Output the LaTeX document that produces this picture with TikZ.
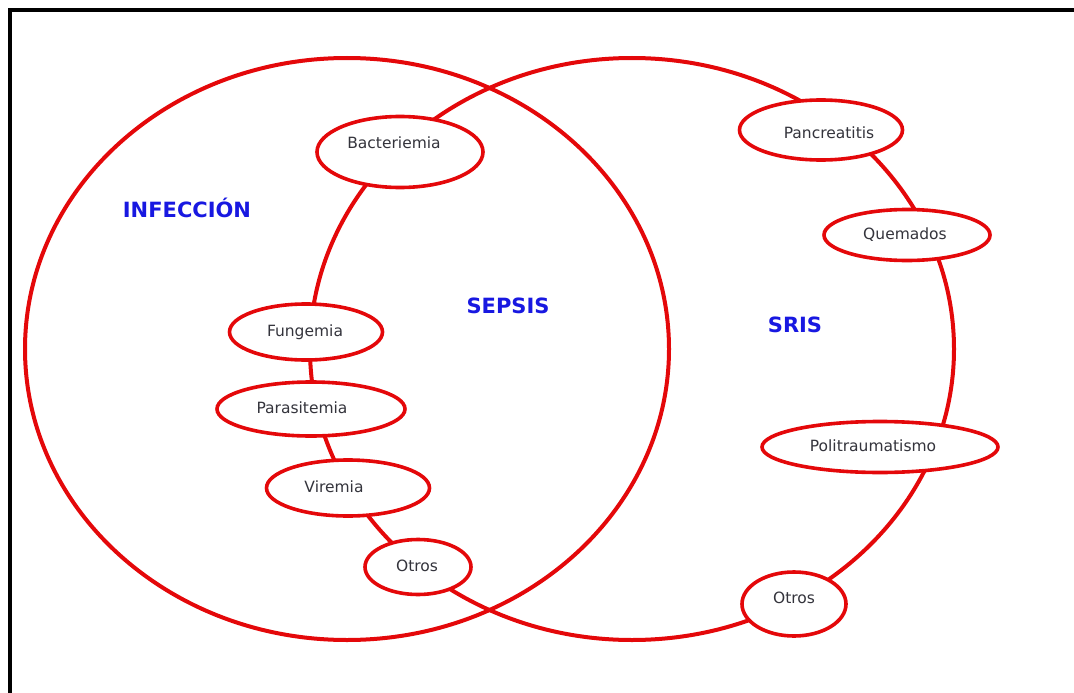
\documentclass[tikz,border=0pt]{standalone}
\usepackage{fontspec}
\setmainfont{DejaVu Sans}
\usetikzlibrary{shapes.geometric}
\definecolor{ringred}{RGB}{228,8,10}
\definecolor{setblue}{RGB}{24,24,225}
\definecolor{inkgray}{RGB}{52,52,60}
\tikzset{
  ring/.style={draw=ringred, line width=4pt},
  bubble/.style={ellipse, draw=ringred, line width=3.6pt, fill=white, inner sep=0pt},
  bubbletext/.style={font=\fontsize{15.5}{16}\selectfont, text=inkgray, inner sep=0pt,
                     text height=11pt, text depth=0pt},
  setname/.style={font=\fontsize{21}{22}\selectfont\bfseries, text=setblue, inner sep=0pt}
}
\begin{document}
\begin{tikzpicture}[x=1pt,y=-1pt]
  \useasboundingbox (0,0) rectangle (1074,693);
  % frame
  \draw[line width=4pt, line cap=rect] (10,693) -- (10,10) -- (1074,10);

  % the two overlapping sets
  \draw[ring] (347,349) ellipse [x radius=322pt, y radius=291pt];
  \draw[ring] (632,349) ellipse [x radius=322pt, y radius=291pt];

  % set names
  \node[setname] (infeccion) at (187,207.5) {INFECCIÓN};
  \node[setname] (sepsis) at (508,306) {SEPSIS};
  \node[setname] (sris) at (795,324.5) {SRIS};

  % items on the border of the SRIS set
  \node[bubble, minimum width=166pt, minimum height=71pt,
        label={[bubbletext, xshift=-6pt, yshift=9pt]center:Bacteriemia}] (bact) at (400,152) {};
  \node[bubble, minimum width=153pt, minimum height=56pt,
        label={[bubbletext, xshift=-1pt, yshift=1pt]center:Fungemia}] (fung) at (306,332) {};
  \node[bubble, minimum width=188pt, minimum height=54pt,
        label={[bubbletext, xshift=-9pt, yshift=1pt]center:Parasitemia}] (para) at (311,409) {};
  \node[bubble, minimum width=163pt, minimum height=56pt,
        label={[bubbletext, xshift=-14pt, yshift=1pt]center:Viremia}] (vir) at (348,488) {};
  \node[bubble, minimum width=106pt, minimum height=55pt,
        label={[bubbletext, xshift=-1pt, yshift=1pt]center:Otros}] (otrosA) at (418,567) {};

  \node[bubble, minimum width=163pt, minimum height=60pt,
        label={[bubbletext, xshift=8pt, yshift=-3pt]center:Pancreatitis}] (panc) at (821,130) {};
  \node[bubble, minimum width=166pt, minimum height=51pt,
        label={[bubbletext, xshift=-2pt, yshift=1pt]center:Quemados}] (quem) at (907,235) {};
  \node[bubble, minimum width=236pt, minimum height=51pt,
        label={[bubbletext, xshift=-7pt, yshift=1pt]center:Politraumatismo}] (polit) at (880,447) {};
  \node[bubble, minimum width=104pt, minimum height=64pt,
        label={[bubbletext, xshift=0pt, yshift=6pt]center:Otros}] (otrosB) at (794,604) {};
\end{tikzpicture}
\end{document}
